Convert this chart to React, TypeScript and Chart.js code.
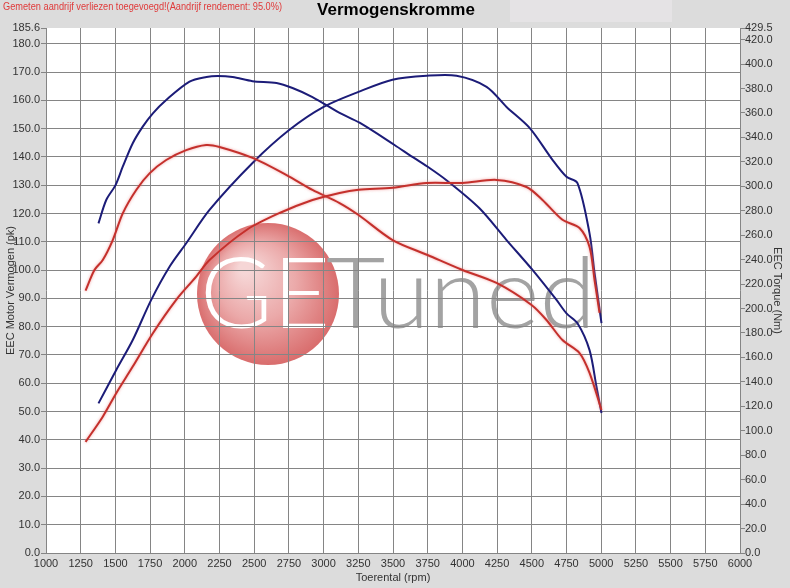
import React, { useEffect, useRef } from 'react';
import { Chart, registerables } from 'chart.js';

Chart.register(...registerables);

const W = 790;
const H = 588;

const TITLE = 'Vermogenskromme';
const NOTE = 'Gemeten aandrijf verliezen toegevoegd!(Aandrijf rendement: 95.0%)';
const X_TITLE = 'Toerental (rpm)';
const Y_TITLE = 'EEC Motor Vermogen (pk)';
const Y2_TITLE = 'EEC Torque (Nm)';

const LEFT_TICKS = [0, 10, 20, 30, 40, 50, 60, 70, 80, 90, 100, 110, 120, 130, 140, 150, 160, 170, 180, 185.6];
const RIGHT_TICKS = [0, 20, 40, 60, 80, 100, 120, 140, 160, 180, 200, 220, 240, 260, 280, 300, 320, 340, 360, 380, 400, 420, 429.5];

// Tuned (blue) torque, Nm
const blueTorqueRpm = [1378, 1434, 1501, 1553, 1625, 1697, 1770, 1866, 2034, 2156, 2236, 2344, 2488, 2661, 2776, 2920, 3115, 3259, 3511, 3640, 3763, 3885, 4123, 4318, 4505, 4678, 4750, 4829, 4916, 4966, 5002];
const blueTorqueNm = [269.7, 288.8, 301, 316, 335.2, 348.8, 359.7, 370.6, 385.6, 389.4, 390.2, 389.4, 386, 384.5, 380.4, 373, 360, 352, 333.8, 324, 315, 305, 282, 256, 231.6, 207, 196, 188, 166, 136, 114.5];

// Tuned (blue) power, pk
const bluePowerRpm = [1378, 1506, 1625, 1758, 1890, 2010, 2178, 2488, 2754, 3000, 3251, 3496, 3742, 3958, 4174, 4318, 4484, 4649, 4750, 4829, 4916, 4952, 5002];
const bluePowerPk = [52.9, 64.7, 75.3, 89.5, 101.2, 109.5, 121.3, 137.9, 149.6, 157.7, 163, 167.3, 168.7, 168.7, 164.8, 157.7, 150.3, 139, 133, 130.8, 113, 99, 81.3];

// Stock (red) torque, Nm
const redTorqueRpm = [1285, 1349, 1409, 1481, 1553, 1650, 1746, 1866, 2010, 2154, 2250, 2488, 2733, 2920, 3115, 3252, 3497, 3749, 4001, 4246, 4498, 4606, 4721, 4844, 4916, 5002];
const redTorqueNm = [214.6, 231.5, 239.7, 256, 277.9, 297, 310.6, 321.5, 329.6, 333.8, 332.2, 323.2, 309.2, 297, 286.3, 276.5, 256, 243.8, 231.5, 220.9, 202.9, 190.6, 174.2, 163.6, 147.3, 117];

// Stock (red) power, pk
const redPowerRpm = [1285, 1409, 1506, 1625, 1770, 1938, 2082, 2178, 2445, 2683, 2920, 3115, 3252, 3497, 3742, 4001, 4246, 4462, 4577, 4721, 4844, 4916, 4952, 4988];
const redPowerPk = [39.3, 48.2, 56.5, 65.9, 77.7, 89.5, 97.7, 103.6, 114.2, 120.2, 124.8, 127.3, 128.4, 129.1, 130.8, 130.8, 131.9, 129.4, 124.8, 117.8, 114.9, 108.2, 96.5, 84.9];

const BLUE = '#1c1c78';
const RED = '#c4302c';
const GRID = '#858585';
const TXT = '#333333';
const FONT = '"Liberation Sans", Arial, sans-serif';

const pts = (xs: number[], ys: number[]) => xs.map((x, i) => ({ x, y: ys[i] }));

function drawScaledText(ctx: CanvasRenderingContext2D, text: string, x: number, y: number, targetW: number) {
  const w = ctx.measureText(text).width;
  ctx.save();
  ctx.translate(x, y);
  ctx.scale(targetW / w, 1);
  ctx.fillText(text, 0, 0);
  ctx.restore();
}

const bgPlugin = {
  id: 'bgDecor',
  beforeDraw(chart: any) {
    const ctx: CanvasRenderingContext2D = chart.ctx;
    const a = chart.chartArea;
    ctx.save();
    ctx.fillStyle = '#dcdcdc';
    ctx.fillRect(0, 0, W, H);
    ctx.fillStyle = '#e5e3e5';
    ctx.fillRect(510, 0, 162, 22);
    ctx.fillStyle = '#ffffff';
    ctx.fillRect(a.left, a.top, a.right - a.left, a.bottom - a.top);

    ctx.fillStyle = '#000000';
    ctx.font = 'bold 17px ' + FONT;
    ctx.textAlign = 'center';
    ctx.textBaseline = 'middle';
    ctx.fillText(TITLE, 396, 10);

    ctx.fillStyle = '#e03a3a';
    ctx.font = '10px ' + FONT;
    ctx.textAlign = 'left';
    drawScaledText(ctx, NOTE, 3, 7, 279);

    // watermark logo
    const cx = 268, cy = 294, r = 71;
    const g = ctx.createRadialGradient(245, 268, 6, cx, cy, r + 2);
    g.addColorStop(0, '#f6d6d6');
    g.addColorStop(0.5, '#eba9a9');
    g.addColorStop(1, '#d86a6a');
    ctx.fillStyle = g;
    ctx.beginPath();
    ctx.arc(cx, cy, r, 0, Math.PI * 2);
    ctx.fill();

    ctx.textBaseline = 'alphabetic';
    ctx.textAlign = 'left';
    ctx.font = '300 98px Lato, ' + FONT;
    ctx.fillStyle = '#ffffff';
    drawScaledText(ctx, 'GE', 200, 328, 130);
    ctx.fillStyle = '#a3a3a3';
    drawScaledText(ctx, 'Tuned', 326, 328, 270);
    ctx.restore();
  },
  beforeDatasetDraw(chart: any, args: any) {
    const ds = chart.data.datasets[args.index];
    const ctx: CanvasRenderingContext2D = chart.ctx;
    ctx.save();
    if (ds.borderColor === RED) {
      ctx.shadowColor = 'rgba(235,120,120,0.7)';
      ctx.shadowBlur = 3;
    }
  },
  afterDatasetDraw(chart: any) {
    chart.ctx.restore();
  },
};

export default function App() {
  const ref = useRef<HTMLCanvasElement>(null);
  useEffect(() => {
    document.body.style.margin = '0';
    Chart.defaults.font.family = FONT;
    const line = (data: any, color: string, axis: string) => ({
      data,
      borderColor: color,
      borderWidth: 2,
      pointRadius: 0,
      fill: false,
      tension: 0.3,
      yAxisID: axis,
    });
    const chart = new Chart(ref.current as HTMLCanvasElement, {
      type: 'line',
      data: {
        datasets: [
          line(pts(redPowerRpm, redPowerPk), RED, 'y'),
          line(pts(redTorqueRpm, redTorqueNm), RED, 'y2'),
          line(pts(bluePowerRpm, bluePowerPk), BLUE, 'y'),
          line(pts(blueTorqueRpm, blueTorqueNm), BLUE, 'y2'),
        ] as any,
      },
      options: {
        responsive: false,
        animation: false,
        devicePixelRatio: 1,
        layout: { padding: { top: 28, left: 0, right: 0, bottom: 0 } },
        plugins: { legend: { display: false }, tooltip: { enabled: false }, title: { display: false } },
        scales: {
          x: {
            type: 'linear',
            min: 1000,
            max: 6000,
            ticks: { stepSize: 250, color: TXT, font: { size: 11 }, padding: 4, maxRotation: 0, autoSkip: false, callback: (v: any) => String(v) },
            grid: { color: GRID, drawTicks: false, lineWidth: 1 },
            border: { display: false },
            title: { display: true, text: X_TITLE, color: TXT, font: { size: 11 }, padding: { top: 0, bottom: 3 } },
            afterFit: (s: any) => { s.height = 35; },
          },
          y: {
            position: 'left',
            min: 0,
            max: 185.6,
            afterBuildTicks: (s: any) => { s.ticks = LEFT_TICKS.map((v) => ({ value: v })); },
            ticks: { color: TXT, font: { size: 11 }, padding: 1, autoSkip: false, callback: (v: any) => Number(v).toFixed(1) },
            grid: {
              color: (c: any) => (c.tick && c.tick.value === 185.6 ? 'rgba(0,0,0,0)' : GRID),
              tickColor: GRID,
              tickLength: 5,
              lineWidth: 1,
            },
            border: { display: false },
            title: { display: true, text: Y_TITLE, color: TXT, font: { size: 11 }, padding: { top: 4, bottom: 0 } },
            afterFit: (s: any) => { s.width = 46; },
          },
          y2: {
            position: 'right',
            min: 0,
            max: 429.5,
            afterBuildTicks: (s: any) => { s.ticks = RIGHT_TICKS.map((v) => ({ value: v })); },
            ticks: { color: TXT, font: { size: 11 }, padding: 0, autoSkip: false, callback: (v: any) => Number(v).toFixed(1) },
            grid: { drawOnChartArea: false, color: GRID, tickLength: 5 },
            border: { display: false },
            title: { display: true, text: Y2_TITLE, color: TXT, font: { size: 11 }, padding: { top: 6, bottom: 0 } },
            afterFit: (s: any) => { s.width = 50; },
          },
        },
      } as any,
      plugins: [bgPlugin],
    });
    return () => chart.destroy();
  }, []);
  return (
    <div style={{ position: 'absolute', left: 0, top: 0, width: W, height: H }}>
      <canvas ref={ref} width={W} height={H} style={{ display: 'block', width: W, height: H }} />
    </div>
  );
}
